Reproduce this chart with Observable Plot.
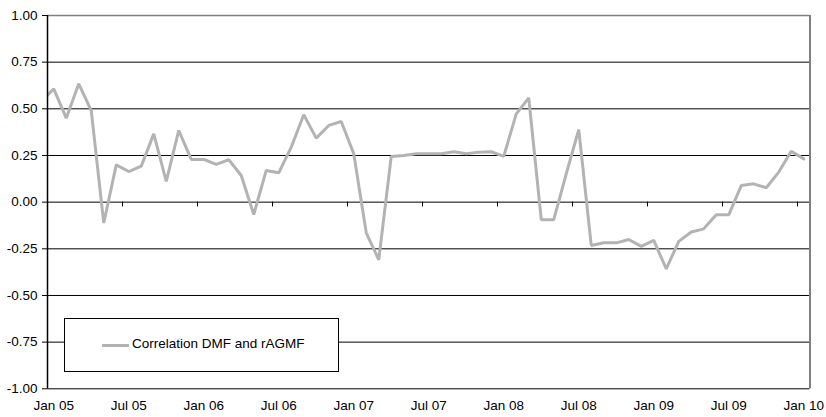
<!DOCTYPE html>
<html>
<head>
<meta charset="utf-8">
<script src="https://cdn.jsdelivr.net/npm/d3@7"></script>
<script src="https://cdn.jsdelivr.net/npm/@observablehq/plot@0.6"></script>
<style>
  html, body { margin: 0; padding: 0; background: #fff; }
  #wrap { position: relative; width: 826px; height: 417px; }
  #legend {
    position: absolute; left: 64px; top: 318px; width: 275px; height: 54px;
    background: #fff; border: 1px solid #000; box-sizing: border-box;
    font-family: "Liberation Sans", Arial, sans-serif; font-size: 13.5px; color: #000;
  }
  #legend .sw { position: absolute; left: 37px; top: 25px; width: 27px; height: 3px; background: #b3b3b3; }
  #legend .tx { position: absolute; left: 67px; top: 17px; white-space: nowrap; }
</style>
</head>
<body>
<div id="wrap"></div>
<script>
// Monthly values, Dec 04 (clipped at left edge) through Jan 10
const months = [
  "Dec 04",
  "Jan 05","Feb 05","Mar 05","Apr 05","May 05","Jun 05","Jul 05","Aug 05","Sep 05","Oct 05","Nov 05","Dec 05",
  "Jan 06","Feb 06","Mar 06","Apr 06","May 06","Jun 06","Jul 06","Aug 06","Sep 06","Oct 06","Nov 06","Dec 06",
  "Jan 07","Feb 07","Mar 07","Apr 07","May 07","Jun 07","Jul 07","Aug 07","Sep 07","Oct 07","Nov 07","Dec 07",
  "Jan 08","Feb 08","Mar 08","Apr 08","May 08","Jun 08","Jul 08","Aug 08","Sep 08","Oct 08","Nov 08","Dec 08",
  "Jan 09","Feb 09","Mar 09","Apr 09","May 09","Jun 09","Jul 09","Aug 09","Sep 09","Oct 09","Nov 09","Dec 09",
  "Jan 10"
];
const correlation = [
  0.54,
  0.607, 0.45, 0.634, 0.49, -0.112, 0.20, 0.164, 0.193, 0.366, 0.111, 0.384, 0.229,
  0.229, 0.202, 0.227, 0.143, -0.066, 0.170, 0.157, 0.295, 0.468, 0.343, 0.411, 0.432,
  0.259, -0.164, -0.309, 0.245, 0.25, 0.259, 0.259, 0.259, 0.27, 0.259, 0.268, 0.27,
  0.245, 0.473, 0.559, -0.094, -0.094, 0.152, 0.389, -0.232, -0.218, -0.218, -0.2, -0.237,
  -0.205, -0.357, -0.21, -0.16, -0.143, -0.068, -0.068, 0.089, 0.098, 0.077, 0.161, 0.273,
  0.232
];
const xTickLabels = ["Jan 05","Jul 05","Jan 06","Jul 06","Jan 07","Jul 07","Jan 08","Jul 08","Jan 09","Jul 09","Jan 10"];
const yTicks = [1, 0.75, 0.5, 0.25, 0, -0.25, -0.5, -0.75, -1];
const seriesName = "Correlation DMF and rAGMF";

// month index: Jan 05 = 0
const data = months.map((m, i) => ({month: m, idx: i - 1, value: correlation[i]}));
const firstIdx = 0, lastIdx = months.length - 2;
const labelIdx = xTickLabels.map(l => months.indexOf(l) - 1);
const tickEdges = labelIdx.slice(1).map(i => i - 0.5);

const chart = Plot.plot({
  width: 826,
  height: 417,
  marginLeft: 47,
  marginRight: 16.5,
  marginTop: 15,
  marginBottom: 28.7,
  style: {fontFamily: "Liberation Sans, Arial, sans-serif", fontSize: "13.5px", color: "#000", background: "#fff"},
  x: {domain: [firstIdx - 0.5, lastIdx + 0.5], axis: null},
  y: {domain: [-1, 1], axis: null},
  marks: [
    Plot.ruleY(yTicks.filter(d => d !== 1), {stroke: "#000", strokeWidth: 1}),
    Plot.ruleY([1], {stroke: "#808080", strokeWidth: 1.5}),
    Plot.ruleX([lastIdx + 0.5], {stroke: "#808080", strokeWidth: 2}),
    Plot.ruleX(tickEdges, {y1: 0, y2: -0.026, stroke: "#000", strokeWidth: 1}),
    Plot.line(data, {x: "idx", y: "value", stroke: "#b3b3b3", strokeWidth: 3, clip: true, strokeLinejoin: "miter"}),
    Plot.ruleX([firstIdx - 0.5], {stroke: "#000", strokeWidth: 1.5}),
    Plot.axisY(yTicks, {label: null, tickSize: 5, tickPadding: 5, tickFormat: d => d.toFixed(2).replace("-0.00", "0.00"), fontSize: 13.5, stroke: "#000"}),
    Plot.axisX(labelIdx, {label: null, anchor: "bottom", tickSize: 0, tickPadding: 12, tickFormat: (d, i) => xTickLabels[i], fontSize: 13.5})
  ]
});

const wrap = document.getElementById("wrap");
wrap.appendChild(chart);
const legend = document.createElement("div");
legend.id = "legend";
legend.innerHTML = '<div class="sw"></div><div class="tx"></div>';
legend.querySelector(".tx").textContent = seriesName;
wrap.appendChild(legend);
</script>
</body>
</html>
